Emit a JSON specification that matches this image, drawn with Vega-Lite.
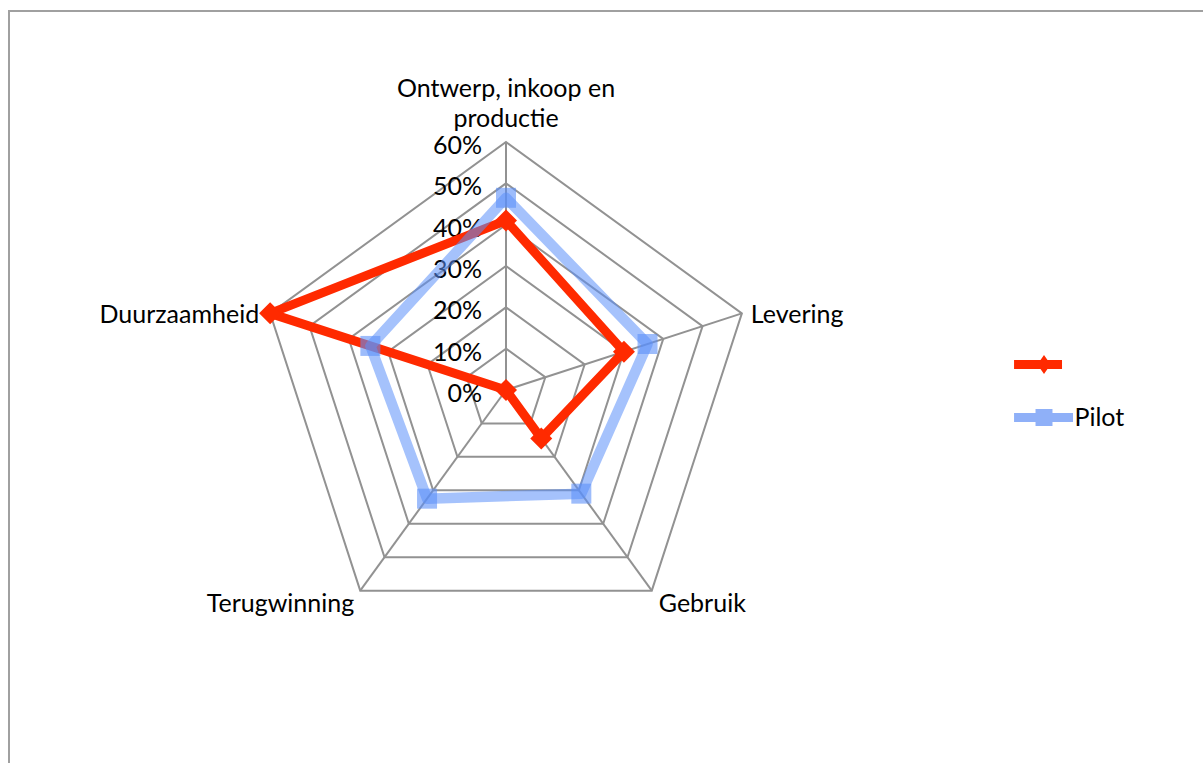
{
  "$schema": "https://vega.github.io/schema/vega-lite/v6.json",
  "width": 1203,
  "height": 763,
  "autosize": {"type": "fit", "contains": "padding"},
  "padding": {"left": 9, "top": 11, "right": -3, "bottom": -3},
  "background": "white",
  "config": {
    "view": {"stroke": "#a0a0a0", "strokeWidth": 2},
    "font": "Lato",
    "text": {"font": "Lato", "fontSize": 25, "fill": "#000000"}
  },
  "datasets": {
    "scores": [
      {"axis": "Ontwerp, inkoop en productie", "series": "", "value": 0.41},
      {"axis": "Levering", "series": "", "value": 0.30},
      {"axis": "Gebruik", "series": "", "value": 0.145},
      {"axis": "Terugwinning", "series": "", "value": 0.0},
      {"axis": "Duurzaamheid", "series": "", "value": 0.60},
      {"axis": "Ontwerp, inkoop en productie", "series": "Pilot", "value": 0.465},
      {"axis": "Levering", "series": "Pilot", "value": 0.36},
      {"axis": "Gebruik", "series": "Pilot", "value": 0.31},
      {"axis": "Terugwinning", "series": "Pilot", "value": 0.325},
      {"axis": "Duurzaamheid", "series": "Pilot", "value": 0.345}
    ],
    "levels": [
      {"level": 0.0, "k": [0, 1, 2, 3, 4]},
      {"level": 0.1, "k": [0, 1, 2, 3, 4]},
      {"level": 0.2, "k": [0, 1, 2, 3, 4]},
      {"level": 0.3, "k": [0, 1, 2, 3, 4]},
      {"level": 0.4, "k": [0, 1, 2, 3, 4]},
      {"level": 0.5, "k": [0, 1, 2, 3, 4]},
      {"level": 0.6, "k": [0, 1, 2, 3, 4]}
    ],
    "axes": [
      {"axis": "Ontwerp, inkoop en productie", "value": 0.6},
      {"axis": "Levering", "value": 0.6},
      {"axis": "Gebruik", "value": 0.6},
      {"axis": "Terugwinning", "value": 0.6},
      {"axis": "Duurzaamheid", "value": 0.6}
    ]
  },
  "layer": [
    {
      "data": {"name": "levels"},
      "transform": [
        {"filter": "datum.level > 0"},
        {"flatten": ["k"]},
        {"calculate": "PI/2 - datum.k*2*PI/5", "as": "a"},
        {"calculate": "datum.level*cos(datum.a)", "as": "x"},
        {"calculate": "datum.level*sin(datum.a)", "as": "y"}
      ],
      "mark": {"type": "line", "interpolate": "linear-closed", "stroke": "#929292", "strokeWidth": 2},
      "encoding": {
        "x": {"field": "x", "type": "quantitative", "scale": {"domain": [-1.2024, 1.6935], "nice": false, "zero": false}, "axis": null},
        "y": {"field": "y", "type": "quantitative", "scale": {"domain": [-0.9097, 0.9169], "nice": false, "zero": false}, "axis": null},
        "detail": {"field": "level", "type": "nominal"},
        "order": {"field": "k", "type": "quantitative"}
      }
    },
    {
      "data": {"name": "axes"},
      "transform": [
        {"calculate": "indexof(['Ontwerp, inkoop en productie','Levering','Gebruik','Terugwinning','Duurzaamheid'], datum.axis)", "as": "k"},
        {"calculate": "PI/2 - datum.k*2*PI/5", "as": "a"},
        {"calculate": "datum.value*cos(datum.a)", "as": "x"},
        {"calculate": "datum.value*sin(datum.a)", "as": "y"}
      ],
      "mark": {"type": "rule", "stroke": "#929292", "strokeWidth": 2},
      "encoding": {
        "x": {"field": "x", "type": "quantitative", "scale": {"domain": [-1.2024, 1.6935], "nice": false, "zero": false}, "axis": null},
        "y": {"field": "y", "type": "quantitative", "scale": {"domain": [-0.9097, 0.9169], "nice": false, "zero": false}, "axis": null},
        "x2": {"datum": 0},
        "y2": {"datum": 0}
      }
    },
    {
      "data": {"name": "levels"},
      "transform": [
        {"calculate": "0", "as": "x"}
      ],
      "mark": {"type": "text", "align": "right", "baseline": "middle", "dx": -24, "dy": 4},
      "encoding": {
        "x": {"field": "x", "type": "quantitative", "scale": {"domain": [-1.2024, 1.6935], "nice": false, "zero": false}, "axis": null},
        "y": {"field": "level", "type": "quantitative", "scale": {"domain": [-0.9097, 0.9169], "nice": false, "zero": false}, "axis": null},
        "text": {"field": "level", "type": "quantitative", "format": ".0%"}
      }
    },
    {
      "data": {"name": "axes"},
      "transform": [
        {"filter": "datum.axis === 'Ontwerp, inkoop en productie'"},
        {"calculate": "['Ontwerp, inkoop en', 'productie']", "as": "lbl"},
        {"calculate": "0", "as": "x"}
      ],
      "mark": {"type": "text", "align": "center", "baseline": "middle", "dy": -53, "lineHeight": 30},
      "encoding": {
        "x": {"field": "x", "type": "quantitative", "scale": {"domain": [-1.2024, 1.6935], "nice": false, "zero": false}, "axis": null},
        "y": {"field": "value", "type": "quantitative", "scale": {"domain": [-0.9097, 0.9169], "nice": false, "zero": false}, "axis": null},
        "text": {"field": "lbl"}
      }
    },
    {
      "data": {"name": "axes"},
      "transform": [
        {"filter": "datum.axis === 'Levering'"},
        {"calculate": "PI/2 - 2*PI/5", "as": "a"},
        {"calculate": "datum.value*cos(datum.a)", "as": "x"},
        {"calculate": "datum.value*sin(datum.a)", "as": "y"}
      ],
      "mark": {"type": "text", "align": "left", "baseline": "middle", "dx": 9, "dy": 2},
      "encoding": {
        "x": {"field": "x", "type": "quantitative", "scale": {"domain": [-1.2024, 1.6935], "nice": false, "zero": false}, "axis": null},
        "y": {"field": "y", "type": "quantitative", "scale": {"domain": [-0.9097, 0.9169], "nice": false, "zero": false}, "axis": null},
        "text": {"field": "axis"}
      }
    },
    {
      "data": {"name": "axes"},
      "transform": [
        {"filter": "datum.axis === 'Gebruik'"},
        {"calculate": "PI/2 - 4*PI/5", "as": "a"},
        {"calculate": "datum.value*cos(datum.a)", "as": "x"},
        {"calculate": "datum.value*sin(datum.a)", "as": "y"}
      ],
      "mark": {"type": "text", "align": "left", "baseline": "middle", "dx": 7, "dy": 13},
      "encoding": {
        "x": {"field": "x", "type": "quantitative", "scale": {"domain": [-1.2024, 1.6935], "nice": false, "zero": false}, "axis": null},
        "y": {"field": "y", "type": "quantitative", "scale": {"domain": [-0.9097, 0.9169], "nice": false, "zero": false}, "axis": null},
        "text": {"field": "axis"}
      }
    },
    {
      "data": {"name": "axes"},
      "transform": [
        {"filter": "datum.axis === 'Terugwinning'"},
        {"calculate": "PI/2 - 6*PI/5", "as": "a"},
        {"calculate": "datum.value*cos(datum.a)", "as": "x"},
        {"calculate": "datum.value*sin(datum.a)", "as": "y"}
      ],
      "mark": {"type": "text", "align": "right", "baseline": "middle", "dx": -6, "dy": 13},
      "encoding": {
        "x": {"field": "x", "type": "quantitative", "scale": {"domain": [-1.2024, 1.6935], "nice": false, "zero": false}, "axis": null},
        "y": {"field": "y", "type": "quantitative", "scale": {"domain": [-0.9097, 0.9169], "nice": false, "zero": false}, "axis": null},
        "text": {"field": "axis"}
      }
    },
    {
      "data": {"name": "axes"},
      "transform": [
        {"filter": "datum.axis === 'Duurzaamheid'"},
        {"calculate": "PI/2 - 8*PI/5", "as": "a"},
        {"calculate": "datum.value*cos(datum.a)", "as": "x"},
        {"calculate": "datum.value*sin(datum.a)", "as": "y"}
      ],
      "mark": {"type": "text", "align": "right", "baseline": "middle", "dx": -11, "dy": 2},
      "encoding": {
        "x": {"field": "x", "type": "quantitative", "scale": {"domain": [-1.2024, 1.6935], "nice": false, "zero": false}, "axis": null},
        "y": {"field": "y", "type": "quantitative", "scale": {"domain": [-0.9097, 0.9169], "nice": false, "zero": false}, "axis": null},
        "text": {"field": "axis"}
      }
    },
    {
      "data": {"name": "scores"},
      "transform": [
        {"filter": "datum.series === ''"},
        {"calculate": "indexof(['Ontwerp, inkoop en productie','Levering','Gebruik','Terugwinning','Duurzaamheid'], datum.axis)", "as": "k"},
        {"calculate": "PI/2 - datum.k*2*PI/5", "as": "a"},
        {"calculate": "datum.value*cos(datum.a)", "as": "x"},
        {"calculate": "datum.value*sin(datum.a)", "as": "y"}
      ],
      "mark": {"type": "line", "interpolate": "linear-closed", "stroke": "#ff2a00", "strokeWidth": 9, "strokeJoin": "round"},
      "encoding": {
        "x": {"field": "x", "type": "quantitative", "scale": {"domain": [-1.2024, 1.6935], "nice": false, "zero": false}, "axis": null},
        "y": {"field": "y", "type": "quantitative", "scale": {"domain": [-0.9097, 0.9169], "nice": false, "zero": false}, "axis": null},
        "order": {"field": "k", "type": "quantitative"}
      }
    },
    {
      "data": {"name": "scores"},
      "transform": [
        {"filter": "datum.series === ''"},
        {"calculate": "indexof(['Ontwerp, inkoop en productie','Levering','Gebruik','Terugwinning','Duurzaamheid'], datum.axis)", "as": "k"},
        {"calculate": "PI/2 - datum.k*2*PI/5", "as": "a"},
        {"calculate": "datum.value*cos(datum.a)", "as": "x"},
        {"calculate": "datum.value*sin(datum.a)", "as": "y"}
      ],
      "mark": {"type": "point", "shape": "diamond", "filled": true, "size": 484, "color": "#ff2a00", "opacity": 1},
      "encoding": {
        "x": {"field": "x", "type": "quantitative", "scale": {"domain": [-1.2024, 1.6935], "nice": false, "zero": false}, "axis": null},
        "y": {"field": "y", "type": "quantitative", "scale": {"domain": [-0.9097, 0.9169], "nice": false, "zero": false}, "axis": null}
      }
    },
    {
      "data": {"name": "scores"},
      "transform": [
        {"filter": "datum.series === 'Pilot'"},
        {"calculate": "indexof(['Ontwerp, inkoop en productie','Levering','Gebruik','Terugwinning','Duurzaamheid'], datum.axis)", "as": "k"},
        {"calculate": "PI/2 - datum.k*2*PI/5", "as": "a"},
        {"calculate": "datum.value*cos(datum.a)", "as": "x"},
        {"calculate": "datum.value*sin(datum.a)", "as": "y"}
      ],
      "mark": {"type": "line", "interpolate": "linear-closed", "stroke": "#5b8ff9", "strokeWidth": 10.5, "strokeOpacity": 0.55, "strokeJoin": "round"},
      "encoding": {
        "x": {"field": "x", "type": "quantitative", "scale": {"domain": [-1.2024, 1.6935], "nice": false, "zero": false}, "axis": null},
        "y": {"field": "y", "type": "quantitative", "scale": {"domain": [-0.9097, 0.9169], "nice": false, "zero": false}, "axis": null},
        "order": {"field": "k", "type": "quantitative"}
      }
    },
    {
      "data": {"name": "scores"},
      "transform": [
        {"filter": "datum.series === 'Pilot'"},
        {"calculate": "indexof(['Ontwerp, inkoop en productie','Levering','Gebruik','Terugwinning','Duurzaamheid'], datum.axis)", "as": "k"},
        {"calculate": "PI/2 - datum.k*2*PI/5", "as": "a"},
        {"calculate": "datum.value*cos(datum.a)", "as": "x"},
        {"calculate": "datum.value*sin(datum.a)", "as": "y"}
      ],
      "mark": {"type": "point", "shape": "square", "filled": true, "size": 400, "color": "#5b8ff9", "opacity": 0.6},
      "encoding": {
        "x": {"field": "x", "type": "quantitative", "scale": {"domain": [-1.2024, 1.6935], "nice": false, "zero": false}, "axis": null},
        "y": {"field": "y", "type": "quantitative", "scale": {"domain": [-0.9097, 0.9169], "nice": false, "zero": false}, "axis": null}
      }
    },
    {
      "data": {"name": "scores"},
      "mark": {"type": "point", "filled": true, "size": 2809, "opacity": 1, "strokeWidth": 0},
      "encoding": {
        "x": {"field": "nox", "type": "quantitative", "scale": {"domain": [-1.2024, 1.6935], "nice": false, "zero": false}, "axis": null},
        "y": {"field": "noy", "type": "quantitative", "scale": {"domain": [-0.9097, 0.9169], "nice": false, "zero": false}, "axis": null},
        "color": {
          "field": "series",
          "type": "nominal",
          "scale": {"domain": ["", "Pilot"], "range": ["#ff2a00", "#8fb0f8"]},
          "legend": {
            "title": null, "orient": "none", "legendX": 1008.5, "legendY": 327, "padding": 0, "rowPadding": 13,
            "symbolSize": 2809, "symbolStrokeWidth": 0, "labelOffset": 4, "labelFont": "Lato", "labelFontSize": 25,
            "labelColor": "#000000", "labelLimit": 0
          }
        },
        "shape": {
          "field": "series",
          "type": "nominal",
          "scale": {"domain": ["", "Pilot"], "range": ["M-1.13,-0.17 L0.68,-0.17 L0.68,0.17 L-1.13,0.17 Z M0,-0.36 L0.25,0 L0,0.36 L-0.25,0 Z", "M-1.13,-0.17 L1.094,-0.17 L1.094,0.17 L-1.13,0.17 Z M-0.32,-0.32 L0.32,-0.32 L0.32,0.32 L-0.32,0.32 Z"]},
          "legend": {
            "title": null, "orient": "none", "legendX": 1008.5, "legendY": 327, "padding": 0, "rowPadding": 13,
            "symbolSize": 2809, "symbolStrokeWidth": 0, "labelOffset": 4, "labelFont": "Lato", "labelFontSize": 25,
            "labelColor": "#000000", "labelLimit": 0
          }
        }
      }
    }
  ]
}
